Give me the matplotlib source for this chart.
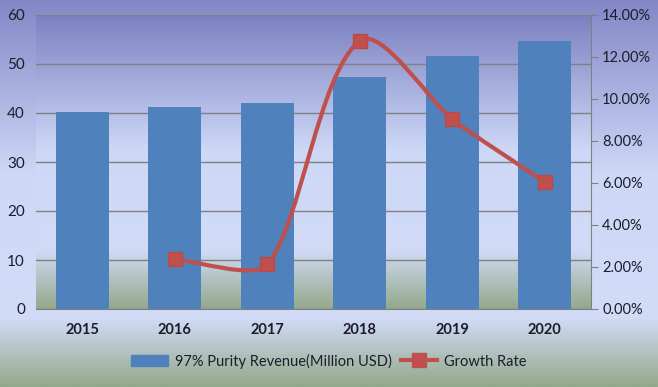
import numpy as np
import matplotlib
matplotlib.use("Agg")
import matplotlib.pyplot as plt
from matplotlib.colors import LinearSegmentedColormap
from matplotlib.patches import Patch
from matplotlib.lines import Line2D
from matplotlib.path import Path
from matplotlib.patches import PathPatch
from matplotlib.ticker import FuncFormatter, MultipleLocator

years = ["2015", "2016", "2017", "2018", "2019", "2020"]
revenue = [40.2, 41.2, 42.0, 47.3, 51.6, 54.7]
growth_years = ["2016", "2017", "2018", "2019", "2020"]
growth = [2.37, 2.12, 12.77, 9.03, 6.05]

plt.rcParams['font.family'] = ['Lato', 'DejaVu Sans']
text_color = "#1c1c2c"
bar_color = "#4f81bd"
line_color = "#c0504d"

fig = plt.figure(figsize=(6.58, 3.87), dpi=100)

def grad_cmap(name, stops):
    return LinearSegmentedColormap.from_list(name, stops)

bg = fig.add_axes([0, 0, 1, 1], zorder=-10)
bg.axis("off")
cm_fig = grad_cmap("f", [(0.0, "#8387c6"), (0.45, "#cdd8f7"), (0.82, "#d2dcf7"), (1.0, "#93a98b")])
bg.imshow(np.linspace(0, 1, 256).reshape(-1, 1), aspect="auto", cmap=cm_fig,
          extent=[0, 1, 0, 1], transform=bg.transAxes)

ax = fig.add_axes([36/658, 1-309/387, (591-36)/658, (309-15)/387])
ax.patch.set_visible(False)
cm_ax = grad_cmap("a", [(0.0, "#7c82c1"), (0.46, "#cdd8f7"), (0.8, "#d1dbf7"), (1.0, "#93a98b")])
ax.imshow(np.linspace(0, 1, 256).reshape(-1, 1), aspect="auto", cmap=cm_ax,
          extent=[0, 1, 0, 1], transform=ax.transAxes, zorder=-5)

x = np.arange(len(years))
ax.set_xlim(-0.5, len(years) - 0.5)
ax.set_ylim(0, 60)
ax.yaxis.set_major_locator(MultipleLocator(10))
ax.grid(axis="y", color="#808080", linewidth=1.0)
ax.yaxis.set_zorder(0.5)
ax.bar(x, revenue, width=0.57, color=bar_color, zorder=3)
for s in ["top", "right", "left"]:
    ax.spines[s].set_visible(False)
ax.spines["bottom"].set_color("#808080")
ax.tick_params(axis="y", length=0, labelsize=11, colors=text_color, pad=8)
ax.tick_params(axis="x", length=0, labelsize=10.5, colors=text_color, pad=10)
ax.set_xticks(x)
ax.set_xticklabels(years, fontweight="bold")

ax2 = ax.twinx()
ax2.set_ylim(0, 14)
ax2.yaxis.set_major_locator(MultipleLocator(2))
ax2.yaxis.set_major_formatter(FuncFormatter(lambda v, p: f"{v:.2f}%"))
for s in ["top", "left", "bottom"]:
    ax2.spines[s].set_visible(False)
ax2.spines["right"].set_color("#808080")
ax2.tick_params(axis="y", length=5, color="#808080", labelsize=10.5, colors=text_color, pad=3)

gx = np.array([years.index(y) for y in growth_years], dtype=float)
gy = np.array(growth, dtype=float)

# Excel-like smoothing of the line through the data points
sy = 294/14 / (556/6)
P = np.column_stack([gx, gy * sy])
k = 0.22
n = len(P)
tang = []
for i in range(n):
    a = P[max(i-1, 0)]
    b = P[min(i+1, n-1)]
    d = b - a
    tang.append(d / np.linalg.norm(d))
verts = [tuple(P[0])]
codes = [Path.MOVETO]
for i in range(n-1):
    L = np.linalg.norm(P[i+1] - P[i])
    c1 = P[i] + tang[i] * L * k
    c2 = P[i+1] - tang[i+1] * L * k
    verts += [tuple(c1), tuple(c2), tuple(P[i+1])]
    codes += [Path.CURVE4] * 3
verts = [(vx, vy / sy) for vx, vy in verts]
path = Path(verts, codes)
ax2.add_patch(PathPatch(path, facecolor="none", edgecolor=line_color, linewidth=3,
                        zorder=5, capstyle="round"))
ax2.plot(gx, gy, linestyle="none", marker="s", markersize=10, color=line_color,
         markeredgecolor="#b84a47", zorder=6)

handles = [Patch(facecolor=bar_color, edgecolor=bar_color),
           Line2D([0], [0], color=line_color, linewidth=3, marker="s", markersize=10)]
labels = ["97% Purity Revenue(Million USD)", "Growth Rate"]
leg = fig.legend(handles, labels, loc="center", bbox_to_anchor=(0.5, 1-361/387), ncol=2,
                 frameon=False, fontsize=10.5, handlelength=2.5, columnspacing=0.6,
                 handletextpad=0.5)
for t in leg.get_texts():
    t.set_color(text_color)

fig.savefig("out.png", dpi=100)
